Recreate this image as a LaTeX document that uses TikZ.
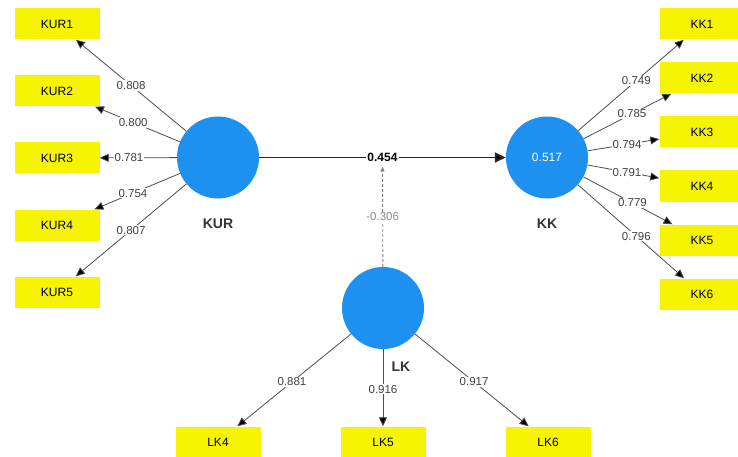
\documentclass[tikz,border=0pt]{standalone}
\usepackage{fontspec}
\setmainfont{Liberation Sans}
\usetikzlibrary{arrows.meta,positioning}
\definecolor{latentblue}{RGB}{30,144,240}
\definecolor{itemyellow}{RGB}{246,244,0}
\tikzset{
	latent/.style={circle, fill=latentblue, minimum size=82pt, inner sep=0pt},
	item/.style={fill=itemyellow, minimum width=85pt, minimum height=31pt, inner sep=0pt, font=\fontsize{12}{12}\selectfont},
	load/.style={-{Triangle[length=9pt,width=8pt,fill=black]}, draw=black!70, line width=0.8pt},
	coef/.style={fill=white, inner sep=1pt, text=black!75, font=\fontsize{11.5}{12}\selectfont},
	lvname/.style={inner sep=0pt, font=\fontsize{14}{14}\selectfont\bfseries, text=black!80},
}
\begin{document}
\begin{tikzpicture}[x=1pt, y=-1pt]
	\useasboundingbox (0,0) rectangle (738,457);
	\node [latent] (kur) at (218,157.5) {};
	\node [latent, text=white, font=\fontsize{12}{12}\selectfont] (kk) at (547,157.5) {0.517};
	\node [latent] (lk) at (383,308) {};
	\node [lvname, below=20pt of kur] (kurname) {KUR};
	\node [lvname, below=20pt of kk] (kkname) {KK};
	\node [lvname] (lkname) at (401,367) {LK};
	\foreach \i in {1,...,5}
		\node [item] (kur\i) at (57, {24 + 67*(\i-1)}) {KUR\i};
	\foreach \i in {1,...,6}
		\node [item] (kk\i) at (702, {24 + 54*(\i-1)}) {KK\i};
	\foreach \i/\x in {4/218,5/383,6/548}
		\node [item] (lk\i) at (\x,442) {LK\i};
	\foreach \i/\v/\p in {1/0.808/0.5,2/0.800/0.55,3/0.781/0.62,4/0.754/0.55,5/0.807/0.5}
		\draw [load] (kur) -- node [coef, pos=\p] {\v} (kur\i);
	\foreach \i/\v in {1/0.749,2/0.785,3/0.794,4/0.791,5/0.779,6/0.796}
		\draw [load] (kk) -- node [coef, pos=0.55] {\v} (kk\i);
	\foreach \i/\v in {4/0.881,5/0.916,6/0.917}
		\draw [load] (lk) -- node [coef, pos=0.52] {\v} (lk\i);
	\path (kur) -- coordinate [midway] (mod) (kk);
	\draw [dash pattern=on 3pt off 2pt, black!50, line width=0.9pt, -{Triangle[length=5pt,width=4pt]}] (lk) -- node [coef, text=black!45] {-0.306} ([yshift=-9pt]mod);
	\draw [line width=1.8pt, draw=black!85, -{Triangle[length=11pt,width=10pt,fill=black]}] (kur) -- node [coef, text=black, font=\fontsize{12}{12}\selectfont\bfseries] {0.454} (kk);
\end{tikzpicture}
\end{document}
